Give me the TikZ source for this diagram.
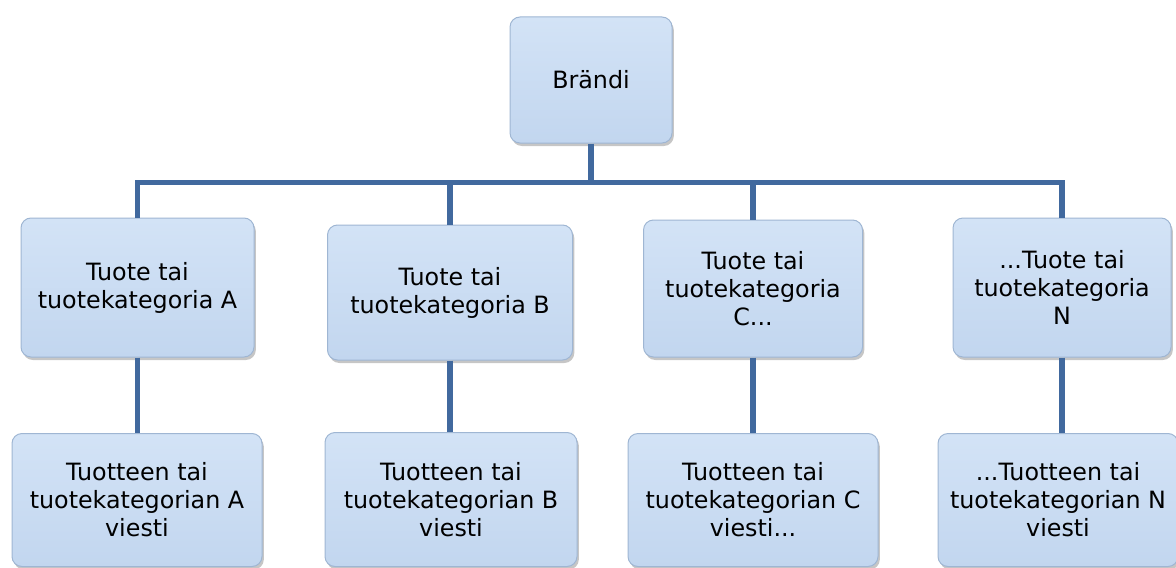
\documentclass[tikz,border=0pt]{standalone}
\usepackage{fontspec}
\setmainfont{DejaVu Sans}
\usepackage{tikz}
\usetikzlibrary{positioning,shadows}

\definecolor{boxtop}{HTML}{D3E3F6}
\definecolor{boxbot}{HTML}{C2D6EF}
\definecolor{boxedge}{HTML}{9FB6D3}
\definecolor{linkblue}{HTML}{41699E}

\tikzset{
  box/.style={rectangle, rounded corners=5pt, draw=boxedge, line width=0.5pt,
    top color=boxtop, bottom color=boxbot, align=center, inner sep=0pt,
    font=\fontsize{11.9}{14}\selectfont,
    drop shadow={shadow xshift=0.9pt, shadow yshift=-1.5pt, opacity=0.45}},
  link/.style={draw=linkblue, line width=2.6pt}
}

\begin{document}
\begin{tikzpicture}[x=0.5pt,y=-0.5pt]
\useasboundingbox (0,0) rectangle (1176,567);

\node[box, minimum width=81pt, minimum height=63pt] (Br) at (591,80) {Brändi};

	\node[box, minimum width=116.5pt, minimum height=69.5pt] (TA) at (137.5,287.5) {Tuote tai\\tuotekategoria A};
	\node[box, minimum width=122.5pt, minimum height=67.5pt] (TB) at (450,292.5) {Tuote tai\\tuotekategoria B};
	\node[box, minimum width=109.5pt, minimum height=68.5pt] (TC) at (753,288.5) {Tuote tai\\tuotekategoria\\C...};
	\node[box, minimum width=109pt, minimum height=69.5pt] (TN) at (1062,287.5) {...Tuote tai\\tuotekategoria\\N};

	\node[box, minimum width=125pt, minimum height=66.5pt] (VA) at (137,500) {Tuotteen tai\\tuotekategorian A\\viesti};
	\node[box, minimum width=126pt, minimum height=67pt] (VB) at (451,499.5) {Tuotteen tai\\tuotekategorian B\\viesti};
	\node[box, minimum width=125pt, minimum height=66.5pt] (VC) at (753,500) {Tuotteen tai\\tuotekategorian C\\viesti...};
	\node[box, minimum width=120pt, minimum height=66.5pt] (VN) at (1058,500) {...Tuotteen tai\\tuotekategorian N\\viesti};

\coordinate (J) at (591,182.5);

	\draw[link] (Br.south) -- (J);
	\draw[link] (TA.north) |- (J) -| (TN.north);
	\draw[link] (TB.north) -- (TB.north |- J);
	\draw[link] (TC.north) -- (TC.north |- J);

	\draw[link] (TA.south) -- (TA.south |- VA.north);
	\draw[link] (TB.south) -- (TB.south |- VB.north);
	\draw[link] (TC.south) -- (TC.south |- VC.north);
	\draw[link] (TN.south) -- (TN.south |- VN.north);
\end{tikzpicture}
\end{document}
